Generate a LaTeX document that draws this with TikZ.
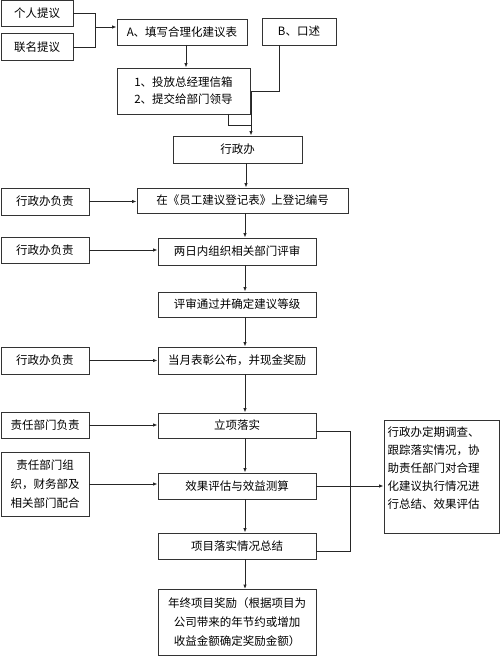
\documentclass[tikz,border=0pt]{standalone}
\usepackage{fontspec}
\newfontfamily\cjk{Noto Sans CJK SC}
\usetikzlibrary{arrows.meta}

\begin{document}
\begin{tikzpicture}[x=1pt, y=-1pt,
    kuang/.style={draw=black!80, line width=0.9pt, fill=white, inner sep=0pt, align=center,
        font=\cjk\fontsize{11.5}{18}\selectfont},
    lian/.style={draw=black!85, line width=0.9pt},
    jian/.style={lian, -{Latex[length=4.5pt, width=3.5pt]}}]
    \useasboundingbox (0,0) rectangle (500,658);

    % 定義方框的位置
    \node[kuang, minimum width=72pt, minimum height=26pt] (geren) at (37,13.5) {个人提议};
    \node[kuang, minimum width=72pt, minimum height=27pt] (lianming) at (37,47) {联名提议};
    \node[kuang, minimum width=130pt, minimum height=26pt] (tianxie) at (182,32) {A、填写合理化建议表};
    \node[kuang, minimum width=74pt, minimum height=27pt] (koushu) at (299,31.5) {B、口述};
    \node[kuang, minimum width=133pt, minimum height=46pt, font=\cjk\fontsize{11.5}{17}\selectfont]
        (toufang) at (183.5,91) {1、投放总经理信箱\\2、提交给部门领导};
    \node[kuang, minimum width=129pt, minimum height=27pt] (xingzheng) at (237.5,149.5) {行政办};
    \node[kuang, minimum width=211pt, minimum height=25pt] (dengji) at (242.5,200.5) {在《员工建议登记表》上登记编号};
    \node[kuang, minimum width=158pt, minimum height=27pt] (pingshen) at (237,251.5) {两日内组织相关部门评审};
    \node[kuang, minimum width=158pt, minimum height=25pt] (dengjiji) at (237,304.5) {评审通过并确定建议等级};
    \node[kuang, minimum width=158pt, minimum height=27pt] (biaozhang) at (237,360.5) {当月表彰公布，并现金奖励};
    \node[kuang, minimum width=158pt, minimum height=25pt] (lixiang) at (237,425.5) {立项落实};
    \node[kuang, minimum width=158pt, minimum height=26pt] (xiaoguo) at (237,486) {效果评估与效益测算};
    \node[kuang, minimum width=158pt, minimum height=26pt] (zongjie) at (237,546) {项目落实情况总结};
    \node[kuang, minimum width=158pt, minimum height=66pt, font=\cjk\fontsize{11.5}{19}\selectfont]
        (nianzhong) at (237,622.5) {年终项目奖励（根据项目为\\公司带来的年节约或增加\\收益金额确定奖励金额）};

    % 左邊的負責方框
    \node[kuang, minimum width=88pt, minimum height=27pt] (fuze1) at (45,201.5) {行政办负责};
    \node[kuang, minimum width=88pt, minimum height=26pt] (fuze2) at (45,250) {行政办负责};
    \node[kuang, minimum width=88pt, minimum height=27pt] (fuze3) at (45,360.5) {行政办负责};
    \node[kuang, minimum width=88pt, minimum height=26pt] (bumen1) at (45,425) {责任部门负责};
    \node[kuang, minimum width=88pt, minimum height=64pt, font=\cjk\fontsize{11.5}{19}\selectfont]
        (bumen2) at (45,484) {责任部门组\\织，财务部及\\相关部门配合};

    % 右邊的方框
    \node[kuang, minimum width=115pt, minimum height=113pt, font=\cjk\fontsize{11.5}{18}\selectfont]
        (jiancha) at (441.5,476.5) {\begin{minipage}[c][107pt][t]{108pt}\raggedright
            \vspace*{4pt}行政办定期调查、\\跟踪落实情况，协\\助责任部门对合理\\化建议执行情况进\\行总结、效果评估
        \end{minipage}};

    % 轉折點
    \coordinate (he) at (95,27);
    \coordinate (hui) at (251,125);
    \coordinate (kou) at (279,91);
    \coordinate (you) at (350,431);

    % 畫出連線
    \draw[lian] (geren.east) -| (95,47) -- (lianming.east);
    \draw[jian] (he) -- (he -| tianxie.west);
    \draw[jian] (186,45) -- (186,45 |- toufang.north);
    \draw[lian] (228,114) |- (hui);
    \draw[lian] (koushu.south -| kou) -- (kou) -| (hui);
    \draw[jian] (hui) -- (hui |- xingzheng.north);
    \draw[jian] (246,163) -- (246,163 |- dengji.north);
    \draw[jian] (245,213) -- (245,213 |- pingshen.north);
    \draw[jian] (245,265) -- (245,265 |- dengjiji.north);
    \draw[jian] (245,317) -- (245,317 |- biaozhang.north);
    \draw[jian] (245,374) -- (245,374 |- lixiang.north);
    \draw[jian] (245,438) -- (245,438 |- xiaoguo.north);
    \draw[jian] (245,499) -- (245,499 |- zongjie.north);
    \draw[jian] (245,559) -- (245,559 |- nianzhong.north);

    \draw[jian] (fuze1.east) -- (fuze1.east -| dengji.west);
    \draw[jian] (fuze2.east) -- (fuze2.east -| pingshen.west);
    \draw[jian] (fuze3.east) -- (fuze3.east -| biaozhang.west);
    \draw[jian] (bumen1.east) -- (bumen1.east -| lixiang.west);
    \draw[jian] (bumen2.east) -- (bumen2.east -| xiaoguo.west);

    \draw[lian] (you -| lixiang.east) -- (you) -- (350,551) -- (350,551 -| zongjie.east);
    \draw[jian] (xiaoguo.east) -- (xiaoguo.east -| jiancha.west);
\end{tikzpicture}
\end{document}
